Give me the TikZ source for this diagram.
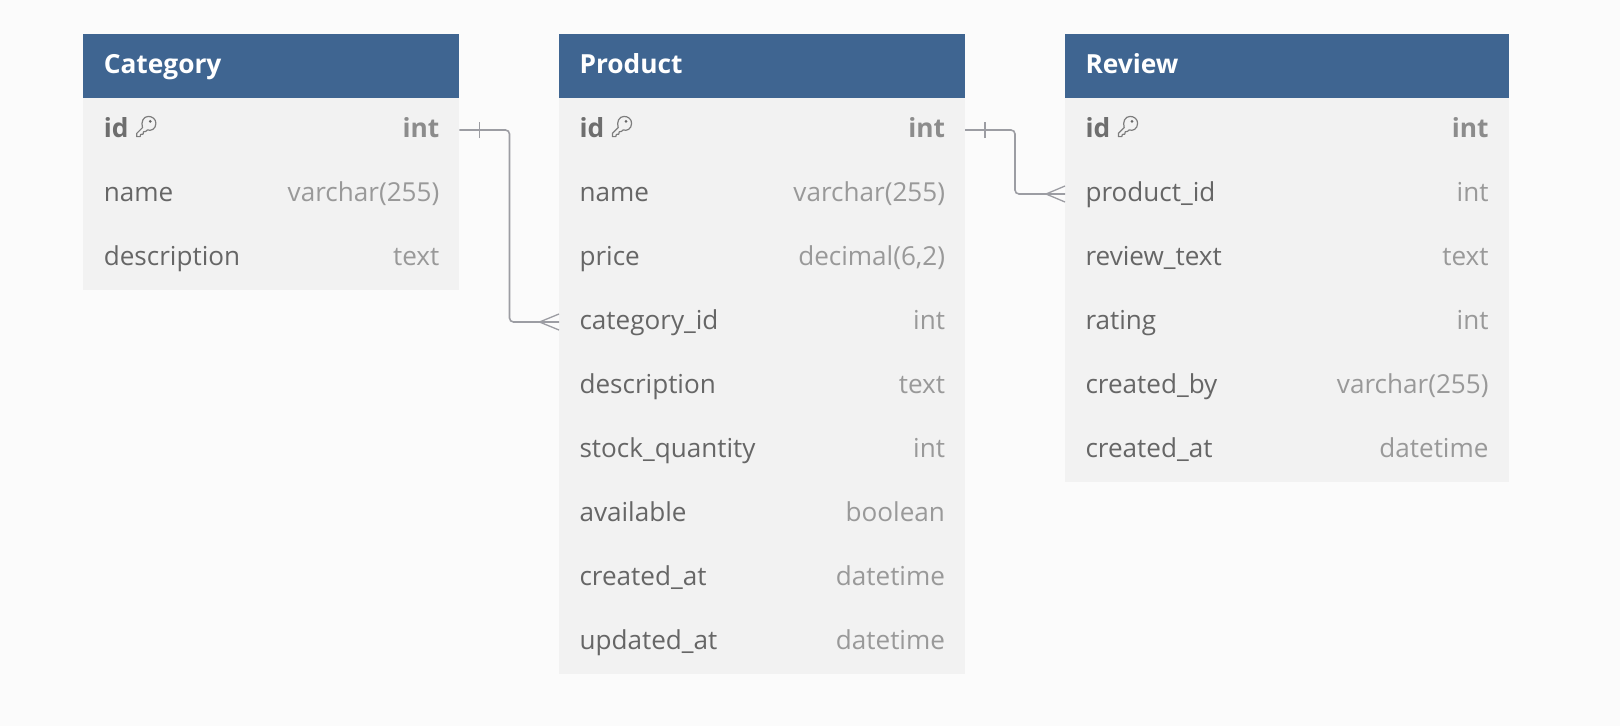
\documentclass[tikz,border=0pt]{standalone}
\usepackage{fontspec}
\setmainfont{Open Sans}
\definecolor{pagebg}{HTML}{FBFBFB}
\definecolor{rowbg}{HTML}{F2F2F2}
\definecolor{headbg}{HTML}{3F6591}
\definecolor{nametxt}{HTML}{666666}
\definecolor{typetxt}{HTML}{999999}
\definecolor{pktxt}{HTML}{6E6E6E}
\definecolor{pktype}{HTML}{8C8C8C}
\definecolor{linec}{HTML}{9C9DA3}
\tikzset{
  headbox/.style={fill=headbg,draw=none,minimum height=64pt,inner sep=0pt,outer sep=0pt},
  rowbox/.style={fill=rowbg,draw=none,minimum height=64.2pt,inner sep=0pt,outer sep=0pt},
  txt/.style={inner sep=0pt,outer sep=0pt,font=\fontsize{26.1}{30}\selectfont},
  tabletitle/.style={txt,anchor=base west,text=white,font=\fontsize{26.3}{30}\selectfont\bfseries},
  fname/.style={txt,anchor=base west,text=nametxt},
  ftype/.style={txt,anchor=base east,text=typetxt},
  pkname/.style={fname,text=pktxt,font=\fontsize{26.3}{30}\selectfont\bfseries},
  pktypen/.style={ftype,text=pktype,font=\fontsize{26.3}{30}\selectfont\bfseries},
  conn/.style={draw=linec,line width=1.6pt,rounded corners=4pt},
  endmark/.style={draw=linec,line width=1.3pt},
  keyicon/.style={draw=nametxt!85,line width=1.2pt,line join=round},
}
% #1 table prefix, #2 left, #3 width, #4 title
\newcommand{\tablehead}[4]{%
  \node[headbox,minimum width=#3pt] (#1-head) at ({#2+#3/2},66) {};
  \node[tabletitle] (#1-title) at ({#2+20.5},73) {#4};
}
% #1 node name, #2 left, #3 width, #4 row number, #5 label, #6 type
\newcommand{\tablerow}[6]{%
  \node[rowbox,minimum width=#3pt] (#1) at ({#2+#3/2},{130+64*(#4)}) {};
  \node[fname] (#1-n) at ({#2+20.5},{137+64*(#4)}) {#5};
  \node[ftype] (#1-t) at ({#2+#3-20},{137+64*(#4)}) {#6};
}
% #1 node name, #2 left, #3 width
\newcommand{\tablepk}[3]{%
  \node[rowbox,minimum width=#3pt] (#1) at ({#2+#3/2},130) {};
  \node[pkname] (#1-n) at ({#2+20.5},137) {id};
  \node[pktypen] (#1-t) at ({#2+#3-20},137) {int};
  \begin{scope}[shift={(#2+64,124)}]
    \draw[keyicon] (-4.8,3.6) -- (-10.6,9.4) -- (-10.6,12.6) -- (-7.2,12.6) -- (-6.6,10.4)
      -- (-4.2,10.2) -- (-3.8,7.8) -- (-1.6,7.4) -- (0.2,5.9)
      .. controls (3.5,7.4) and (8.6,5) .. (8.6,-0.6)
      .. controls (8.6,-5) and (5,-7.6) .. (1,-7.6)
      .. controls (-4,-7.6) and (-6.6,-2) .. (-4.8,3.6) -- cycle;
    \fill[nametxt] (3,-2.6) circle (1.5);
  \end{scope}
}
\begin{document}
\begin{tikzpicture}[x=1pt,y=-1pt]
\useasboundingbox (0,0) rectangle (1620,726);
\fill[pagebg] (0,0) rectangle (1620,726);

% Category
\tablehead{cat}{83.3}{376}{Category}
\tablepk{cat-id}{83.3}{376}
\tablerow{cat-name}{83.3}{376}{1}{name}{varchar(255)}
\tablerow{cat-desc}{83.3}{376}{2}{description}{text}

% Product
\tablehead{prod}{559}{406}{Product}
\tablepk{prod-id}{559}{406}
\tablerow{prod-name}{559}{406}{1}{name}{varchar(255)}
\tablerow{prod-price}{559}{406}{2}{price}{decimal(6,2)}
\tablerow{prod-cat}{559}{406}{3}{category\_id}{int}
\tablerow{prod-desc}{559}{406}{4}{description}{text}
\tablerow{prod-stock}{559}{406}{5}{stock\_quantity}{int}
\tablerow{prod-avail}{559}{406}{6}{available}{boolean}
\tablerow{prod-created}{559}{406}{7}{created\_at}{datetime}
\tablerow{prod-updated}{559}{406}{8}{updated\_at}{datetime}

% Review
\tablehead{rev}{1065}{443.5}{Review}
\tablepk{rev-id}{1065}{443.5}
\tablerow{rev-prod}{1065}{443.5}{1}{product\_id}{int}
\tablerow{rev-text}{1065}{443.5}{2}{review\_text}{text}
\tablerow{rev-rating}{1065}{443.5}{3}{rating}{int}
\tablerow{rev-by}{1065}{443.5}{4}{created\_by}{varchar(255)}
\tablerow{rev-at}{1065}{443.5}{5}{created\_at}{datetime}

% Connectors
\coordinate (bendA) at (509.5,200);
\coordinate (bendB) at (1015,160);
\draw[conn] (cat-id.east) -| (bendA) |- (prod-cat.west);
\draw[conn] (prod-id.east) -| (bendB) |- (rev-prod.west);

% One-side ticks
\draw[endmark] ([xshift=20pt,yshift=-8pt]cat-id.east) -- ([xshift=20pt,yshift=8pt]cat-id.east);
\draw[endmark] ([xshift=20pt,yshift=-8pt]prod-id.east) -- ([xshift=20pt,yshift=8pt]prod-id.east);

% Crow's feet
\draw[endmark] ([yshift=-8pt]prod-cat.west) -- ([xshift=-19.5pt]prod-cat.west) -- ([yshift=8pt]prod-cat.west);
\draw[endmark] ([yshift=-8pt]rev-prod.west) -- ([xshift=-19pt]rev-prod.west) -- ([yshift=8pt]rev-prod.west);
\end{tikzpicture}
\end{document}
